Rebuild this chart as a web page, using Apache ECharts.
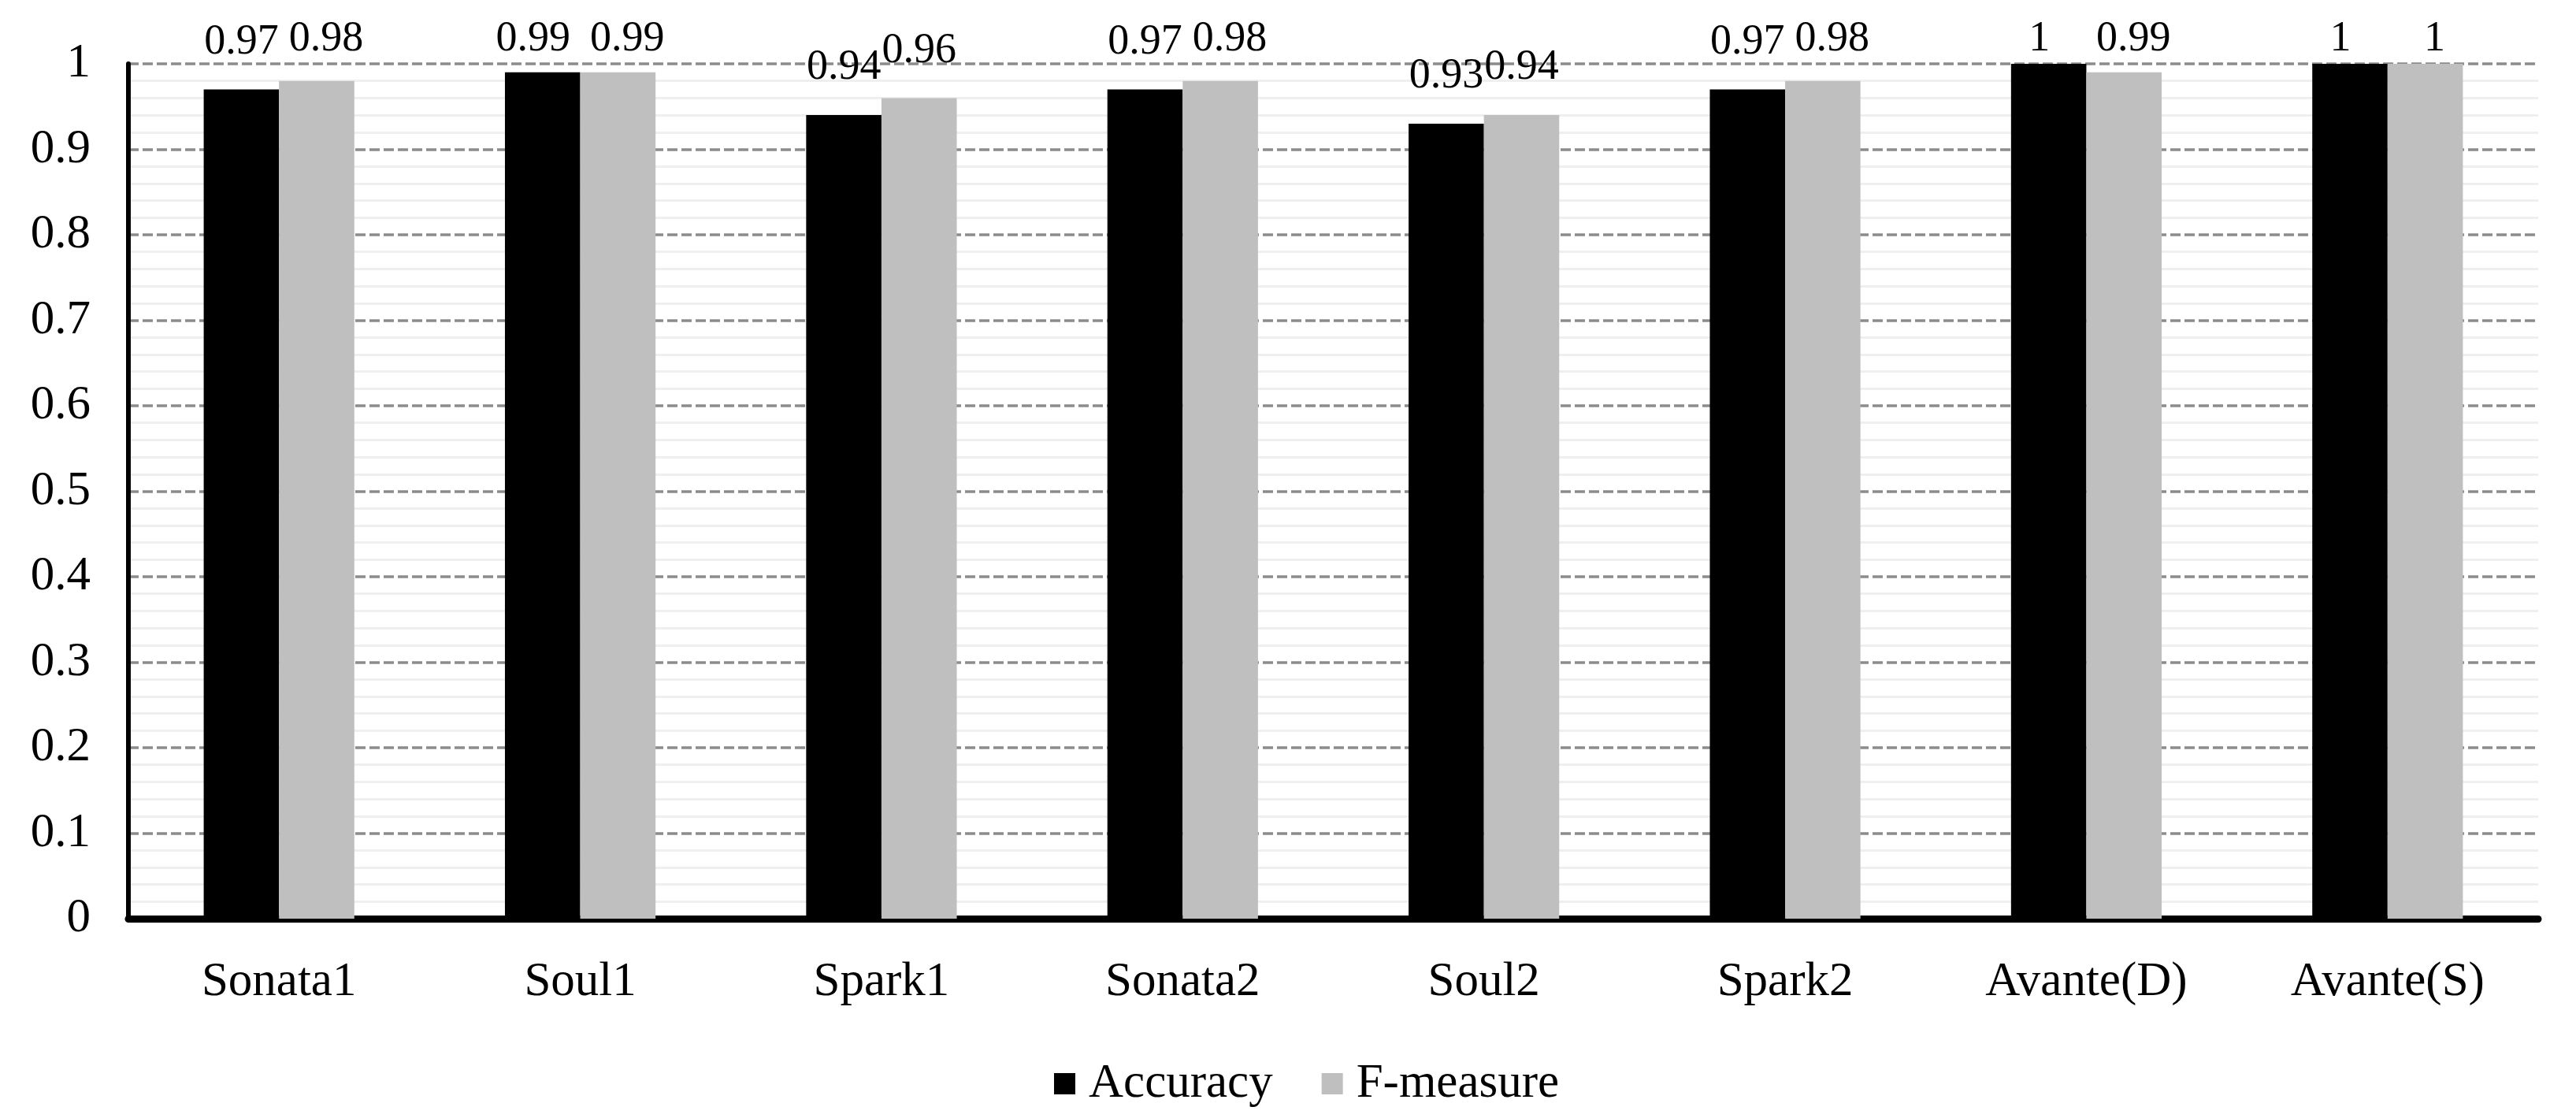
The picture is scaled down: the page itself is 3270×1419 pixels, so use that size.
<!DOCTYPE html>
<html>
<head>
<meta charset="utf-8">
<script src="https://cdn.jsdelivr.net/npm/echarts@6/dist/echarts.min.js"></script>
<style>
html,body{margin:0;padding:0;background:#fff;}
#chart{width:3270px;height:1419px;}
</style>
</head>
<body>
<div id="chart"></div>
<script>
const categories = ['Sonata1','Soul1','Spark1','Sonata2','Soul2','Spark2','Avante(D)','Avante(S)'];
const accuracy = [0.97,0.99,0.94,0.97,0.93,0.97,1,1];
const fMeasure = [0.98,0.99,0.96,0.98,0.94,0.98,0.99,1];
const seriesNames = ['Accuracy','F-measure'];

const FONT = '"Liberation Serif","Times New Roman",serif';
const FS = 61;
const LFS = 54;
const LABEL_TOP_LIMIT = 23;

const chart = echarts.init(document.getElementById('chart'), null, {renderer:'canvas'});
function labelCfg(dx){
  return {show:true, position:'top', distance:33, offset:[dx,0], color:'#000', fontFamily:FONT, fontSize:LFS};
}
function clampLayout(p){
  const r = p.labelRect;
  if (r.y < LABEL_TOP_LIMIT) {
    return {x: r.x + r.width/2, y: LABEL_TOP_LIMIT, align:'center', verticalAlign:'top'};
  }
  return {};
}
chart.setOption({
  animation:false,
  backgroundColor:'#fff',
  textStyle:{fontFamily:FONT},
  grid:{left:163, right:48, top:81, bottom:253},
  legend:{
    data:seriesNames,
    left:1333, top:1340,
    itemWidth:27, itemHeight:27, itemGap:62,
    icon:'rect',
    textStyle:{fontFamily:FONT, fontSize:FS, color:'#000', padding:[0,0,0,12]}
  },
  xAxis:{
    type:'category',
    data:categories,
    axisLine:{show:true, lineStyle:{color:'#000', width:9}},
    axisTick:{show:false},
    axisLabel:{fontFamily:FONT, fontSize:FS, color:'#000', margin:50},
    splitLine:{show:false}
  },
  yAxis:{
    type:'value',
    min:0, max:1, interval:0.1,
    axisLine:{show:true, lineStyle:{color:'#000', width:6}},
    axisTick:{show:false},
    axisLabel:{fontFamily:FONT, fontSize:FS, color:'#000', margin:48},
    splitLine:{show:true, lineStyle:{color:'#8c8c8c', width:3.5, type:[13,5]}},
    minorTick:{show:false, splitNumber:5},
    minorSplitLine:{show:true, lineStyle:{color:'#efefef', width:3}}
  },
  series:[
    {name:seriesNames[0], type:'bar', data:accuracy, barWidth:'25%', barGap:'0%',
     itemStyle:{color:'#000'}, label:labelCfg(-12), labelLayout:clampLayout},
    {name:seriesNames[1], type:'bar', data:fMeasure, barWidth:'25%', barGap:'0%',
     itemStyle:{color:'#bfbfbf'}, label:labelCfg(12), labelLayout:clampLayout}
  ]
});
</script>
</body>
</html>
